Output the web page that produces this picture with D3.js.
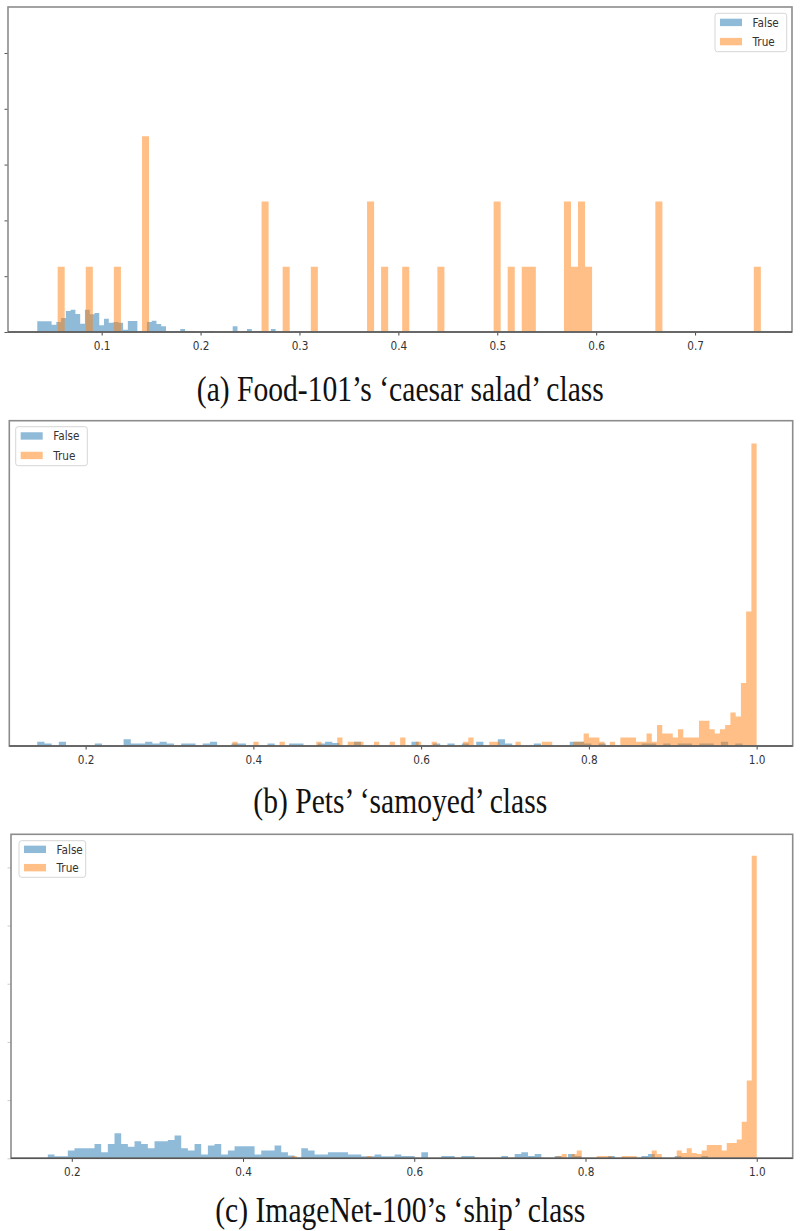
<!DOCTYPE html>
<html><head><meta charset="utf-8">
<script src="https://cdn.jsdelivr.net/npm/d3@7"></script>
<style>body{margin:0;background:#fff}svg{display:block}</style>
</head><body>
<svg id="chart" width="800" height="1231"></svg>
<script>
// ---------- DATA ----------
// (a) Food-101 'caesar salad'
const aXTicks = [0.1, 0.2, 0.3, 0.4, 0.5, 0.6, 0.7];
const aXTickLabels = ["0.1", "0.2", "0.3", "0.4", "0.5", "0.6", "0.7"];
const aYTicks = [0, 5, 10, 15, 20, 25];
const aFalseStart = 0.0349, aFalseBin = 0.00482;
const aFalse = [
  0.96,0.96,0.96,0.65,0.9,1.25,1.88,2.0,1.61,0.74,
  2.0,1.59,1.7,0.6,1.19,0.83,0.9,0.83,0.21,0.99,
  0.99,0,0,0.9,1.01,0.72,0.51,0.09,0.09,0.09,
  0.27,0.09,0.09,0,0,0,0.09,0,0,0,
  0,0.51,0,0.09,0.27,0.09,0.09,0,0,0.27
];
const aTrueStart = 0.0555, aTrueBin = 0.00711;
const aTrue = [
  5.85,0,0,0,5.85,0,0,0,5.85,0,
  0,0,17.55,0,0,0,0,0,0,0,
  0,0,0,0,0,0,0,0,0,11.7,
  0,0,5.85,0,0,0,5.85,0,0,0,
  0,0,0,0,11.7,0,5.85,0,0,5.85,
  0,0,0,0,5.85,0,0,0,0,0,
  0,0,11.7,0,5.85,0,5.85,5.85,0,0,
  0,0,11.7,5.85,11.7,5.85,0,0,0,0,
  0,0,0,0,0,11.7,0,0,0,0,
  0,0,0,0,0,0,0,0,0,5.85
];
const aCaption = "(a) Food-101\u2019s \u2018caesar salad\u2019 class";

// (b) Pets 'samoyed'
const bXTicks = [0.2, 0.4, 0.6, 0.8, 1.0];
const bXTickLabels = ["0.2", "0.4", "0.6", "0.8", "1.0"];
const bYTicks = [];
const bFalseStart = 0.1423, bFalseBin = 0.00858;
const bFalse = [
  1,0.6,0,1,0,0,0,0,0.6,0,
  0,0,1.6,0.6,0.6,1,0.6,1,0.6,0,
  0.6,0.6,0,0.6,1,0,0,0.6,0.6,0,
  0,0,0.6,0,0,0.6,0.6,0,0,0.6,
  1,0.7,0,0,1,0,0,0,0,0,
  0,0,1,0,0,0.6,0,0.6,0,0.6,
  0,1,0,0,1.6,0.6,0,0,0,0.6,
  0,0,0,0,1,1,0.6,0,0.6,0,
  0,0,0,0,0.6,0.6,0,0.6,0,0.6,
  0.6,0,0.6,0.6,0,1,0,0.6,0,0
];
const bTrueStart = 0.375, bTrueBin = 0.00625;
const bTrue = [
  1,0,0,0,1,0,0,0,0,1,
  0,0,0,0,0,0,1,0,0,0,
  2,0,1,1,1,0,0,1,0,0,
  1,0,2,0,0,1,0,0,1,0,
  0,0,0,0,1,2,0,0,0,1,
  1,0,0,0,1,0,0,0,0,1,
  1,0,0,0,0,1,1,3,2,2,
  1,0,1,0,2,2,2,1,1,3,
  1,5,3,3,2,4,2,2,2,6,
  6,4,3,4,5,8,7,15,32,72
];
const bCaption = "(b) Pets\u2019 \u2018samoyed\u2019 class";

// (c) ImageNet-100 'ship'
const cXTicks = [0.2, 0.4, 0.6, 0.8, 1.0];
const cXTickLabels = ["0.2", "0.4", "0.6", "0.8", "1.0"];
const cYTicks = [0, 5, 10, 15, 20, 25];
const cFalseStart = 0.172, cFalseBin = 0.00779;
const cFalse = [
  0.32,0.17,0.17,0.66,0.86,0.86,0.86,1.23,0.52,1.23,
  2.15,1.23,1.0,1.46,1.23,0.86,1.46,1.46,1.57,1.95,
  0.86,0.66,1.23,0.32,1.09,1.23,0.32,0.66,1.03,1.03,
  1.03,0.32,0.66,0.66,1.09,0.52,0.23,0.04,0.86,0.66,
  0.32,0.32,0.52,0.52,0.52,0.32,0.32,0.17,0.17,0.32,
  0.17,0.17,0.32,0.2,0.2,0,0.52,0,0,0.2,
  0.2,0,0.2,0.2,0,0,0,0,0.2,0,
  0.37,0.52,0.2,0.37,0,0,0.2,0,0.37,0.2,
  0,0,0,0,0.2,0,0,0,0,0.2,
  0.37,0,0,0,0.2,0,0,0,0.2,0
];
const cTrueStart = 0.416, cTrueBin = 0.00584;
const cTrue = [
  0,0,0,0,0,0,0,0.2,0,0,
  0,0,0,0,0,0,0,0,0,0,
  0,0,0.2,0,0,0,0,0,0,0,
  0,0,0,0,0,0,0,0,0,0,
  0,0,0,0,0,0,0,0,0,0,
  0,0,0,0,0,0,0,0,0,0,
  0.2,0.37,0,0.37,0.66,0,0,0,0.2,0.2,
  0.2,0,0,0.2,0.2,0.2,0,0,0,0.66,
  0.37,0,0,0,0.66,0.46,0.86,0.46,0.37,0.66,
  1.14,1.14,1.14,0.66,1.31,1.31,1.61,3.15,6.68,26.0
];
const cCaption = "(c) ImageNet-100\u2019s \u2018ship\u2019 class";

const seriesNames = ["False", "True"];
const seriesColors = ["#1f77b4", "#ff7f0e"];

// ---------- LAYOUT ----------
const panels = [
  {xDomain:[0.0053,0.798], left:8, right:792, top:7, bottom:332, yMax:29.12,
   xTicks:aXTicks, xLabels:aXTickLabels, yTicks:aYTicks, yTickColor:"#555",
   fV:aFalse, fS:aFalseStart, fW:aFalseBin, tV:aTrue, tS:aTrueStart, tW:aTrueBin,
   legend:{x:715, y:13.3, w:71.7, h:38.4}, caption:aCaption, capY:400.5},
  {xDomain:[0.109,1.043], left:9.3, right:792.7, top:420.7, bottom:746, yMax:77.45,
   xTicks:bXTicks, xLabels:bXTickLabels, yTicks:bYTicks, yTickColor:"#ccc",
   fV:bFalse, fS:bFalseStart, fW:bFalseBin, tV:bTrue, tS:bTrueStart, tW:bTrueBin,
   legend:{x:15.7, y:426.7, w:71.6, h:39}, caption:bCaption, capY:813},
  {xDomain:[0.129,1.042], left:11, right:792.7, top:834.3, bottom:1158.3, yMax:27.84,
   xTicks:cXTicks, xLabels:cXTickLabels, yTicks:cYTicks, yTickColor:"#ccc",
   fV:cFalse, fS:cFalseStart, fW:cFalseBin, tV:cTrue, tS:cTrueStart, tW:cTrueBin,
   legend:{x:19, y:840.7, w:66.7, h:36.6}, caption:cCaption, capY:1221.5}
];

const svg = d3.select("#chart");
const SY = 1.2; // vertical stretch of the original raster text

function stepPts(vals, start, w) {
  const pts = vals.map((v, i) => [start + i * w, v]);
  pts.push([start + vals.length * w, 0]);
  return pts;
}

panels.forEach(p => {
  const g = svg.append("g");
  const x = d3.scaleLinear().domain(p.xDomain).range([p.left, p.right]);
  const y = d3.scaleLinear().domain([0, p.yMax]).range([p.bottom, p.top]);

  const area = d3.area().curve(d3.curveStepAfter)
    .x(d => x(d[0])).y0(y(0)).y1(d => y(d[1]));

  g.append("path").attr("d", area(stepPts(p.fV, p.fS, p.fW)))
    .attr("fill", seriesColors[0]).attr("fill-opacity", 0.5);
  g.append("path").attr("d", area(stepPts(p.tV, p.tS, p.tW)))
    .attr("fill", seriesColors[1]).attr("fill-opacity", 0.5);

  // y ticks (labels cropped off in the original)
  if (p.yTicks.length) {
    const ya = d3.axisLeft(y).tickValues(p.yTicks).tickSize(3.5).tickFormat("");
    const yg = g.append("g").attr("transform", `translate(${p.left},0)`).call(ya);
    yg.select(".domain").remove();
    yg.selectAll("line").attr("stroke", p.yTickColor).attr("stroke-width", 1);
  }

  // x axis
  const xa = d3.axisBottom(x).tickValues(p.xTicks)
    .tickFormat((d, i) => p.xLabels[i]).tickSize(3.5).tickPadding(4.2);
  const xg = g.append("g").attr("transform", `translate(0,${p.bottom})`).call(xa);
  xg.select(".domain").remove();
  xg.selectAll("line").attr("stroke", "#444").attr("stroke-width", 1);
  xg.selectAll("text").attr("font-family", "DejaVu Sans").attr("font-size", 10.5)
    .attr("fill", "#333").attr("transform", `scale(1,${SY})`);

  // frame
  g.append("rect").attr("x", p.left).attr("y", p.top)
    .attr("width", p.right - p.left).attr("height", p.bottom - p.top)
    .attr("fill", "none").attr("stroke", "#8c8c8c").attr("stroke-width", 1.6);
  g.append("line").attr("x1", p.left).attr("x2", p.right)
    .attr("y1", p.bottom).attr("y2", p.bottom)
    .attr("stroke", "#555").attr("stroke-width", 1.4);

  // legend
  const L = p.legend;
  const lg = g.append("g");
  lg.append("rect").attr("x", L.x).attr("y", L.y).attr("width", L.w).attr("height", L.h)
    .attr("rx", 2.5).attr("fill", "#fff").attr("fill-opacity", 0.8)
    .attr("stroke", "#d6d6d6").attr("stroke-width", 1);
  seriesNames.forEach((name, i) => {
    const cy = L.y + L.h * (0.25 + 0.5 * i) - 0.5;
    lg.append("rect").attr("x", L.x + 5).attr("y", cy - 3.7).attr("width", 22).attr("height", 7.4)
      .attr("fill", seriesColors[i]).attr("fill-opacity", 0.5);
    lg.append("text").attr("transform", `translate(${L.x + 37.5},${cy}) scale(1,${SY})`)
      .attr("dy", "0.36em").attr("font-family", "DejaVu Sans").attr("font-size", 10.5)
      .attr("fill", "#333").text(name);
  });

  // caption
  g.append("text").attr("transform", `translate(400.3,${p.capY}) scale(1,${SY})`)
    .attr("text-anchor", "middle").attr("font-family", "Liberation Serif")
    .attr("font-size", 29.6).attr("fill", "#111").text(p.caption);
});
</script>
</body></html>
